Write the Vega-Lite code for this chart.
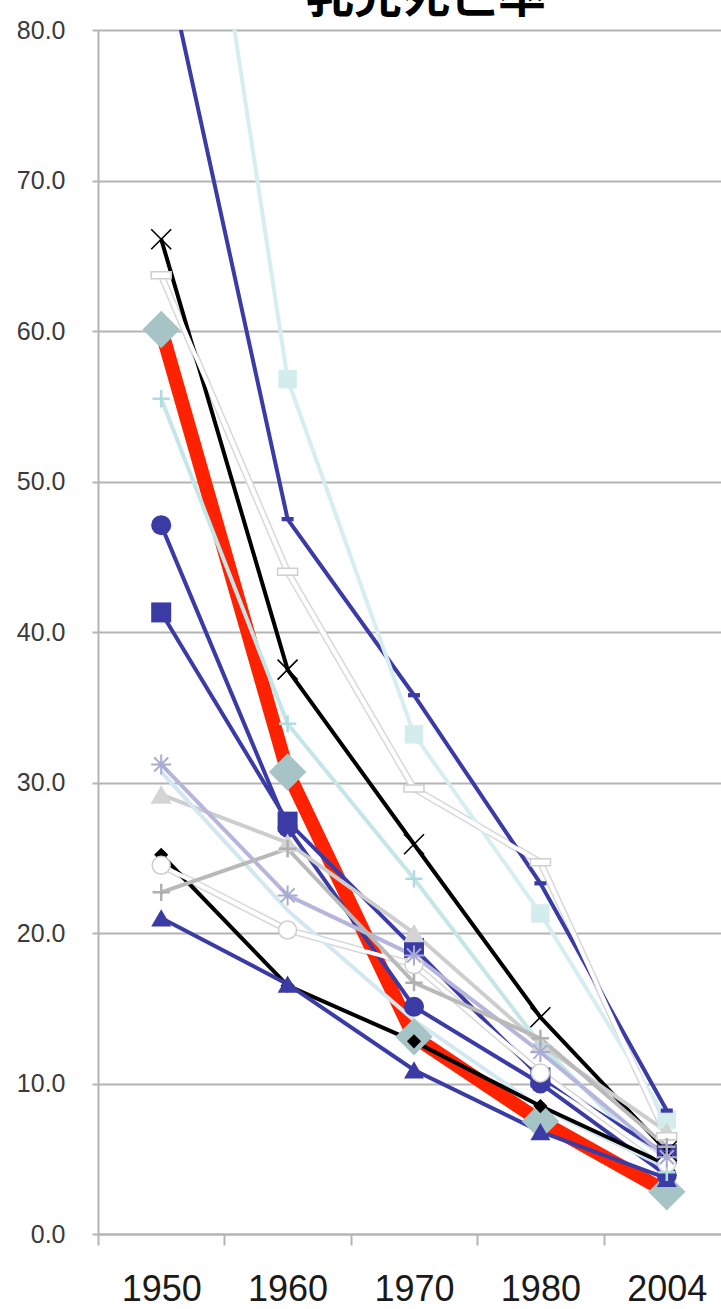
{
  "$schema": "https://vega.github.io/schema/vega-lite/v6.json",
  "width": 632,
  "height": 1204,
  "padding": {"left": 16, "top": -26, "right": -9, "bottom": 0},
  "background": "white",
  "title": {"text": "乳児死亡率", "font": "Noto Sans CJK JP", "fontSize": 48, "fontWeight": "bold", "color": "#000000", "anchor": "middle", "dx": 12, "offset": -52, "baseline": "bottom"},
  "config": {"view": {"stroke": null}, "font": "Liberation Sans"},
  "data": {"values": [
    {"country": "ハンガリー", "year": "1950", "value": 86.0},
    {"country": "ハンガリー", "year": "1960", "value": 47.5},
    {"country": "ハンガリー", "year": "1970", "value": 35.8},
    {"country": "ハンガリー", "year": "1980", "value": 23.3},
    {"country": "ハンガリー", "year": "2004", "value": 8.2},
    {"country": "ポーランド", "year": "1950", "value": 112.0},
    {"country": "ポーランド", "year": "1960", "value": 56.8},
    {"country": "ポーランド", "year": "1970", "value": 33.2},
    {"country": "ポーランド", "year": "1980", "value": 21.3},
    {"country": "ポーランド", "year": "2004", "value": 7.6},
    {"country": "オーストリア", "year": "1950", "value": 66.1},
    {"country": "オーストリア", "year": "1960", "value": 37.5},
    {"country": "オーストリア", "year": "1970", "value": 25.9},
    {"country": "オーストリア", "year": "1980", "value": 14.4},
    {"country": "オーストリア", "year": "2004", "value": 5.5},
    {"country": "イタリア", "year": "1950", "value": 63.7},
    {"country": "イタリア", "year": "1960", "value": 44.0},
    {"country": "イタリア", "year": "1970", "value": 29.6},
    {"country": "イタリア", "year": "1980", "value": 24.7},
    {"country": "イタリア", "year": "2004", "value": 6.5},
    {"country": "日本", "year": "1950", "value": 60.1},
    {"country": "日本", "year": "1960", "value": 30.7},
    {"country": "日本", "year": "1970", "value": 13.1},
    {"country": "日本", "year": "1980", "value": 7.5},
    {"country": "日本", "year": "2004", "value": 2.8},
    {"country": "ドイツ", "year": "1950", "value": 55.5},
    {"country": "ドイツ", "year": "1960", "value": 33.9},
    {"country": "ドイツ", "year": "1970", "value": 23.6},
    {"country": "ドイツ", "year": "1980", "value": 12.6},
    {"country": "ドイツ", "year": "2004", "value": 4.1},
    {"country": "フランス", "year": "1950", "value": 47.1},
    {"country": "フランス", "year": "1960", "value": 27.0},
    {"country": "フランス", "year": "1970", "value": 15.1},
    {"country": "フランス", "year": "1980", "value": 10.0},
    {"country": "フランス", "year": "2004", "value": 3.9},
    {"country": "カナダ", "year": "1950", "value": 41.3},
    {"country": "カナダ", "year": "1960", "value": 27.4},
    {"country": "カナダ", "year": "1970", "value": 19.0},
    {"country": "カナダ", "year": "1980", "value": 10.4},
    {"country": "カナダ", "year": "2004", "value": 5.3},
    {"country": "アメリカ", "year": "1950", "value": 29.2},
    {"country": "アメリカ", "year": "1960", "value": 26.0},
    {"country": "アメリカ", "year": "1970", "value": 20.0},
    {"country": "アメリカ", "year": "1980", "value": 12.6},
    {"country": "アメリカ", "year": "2004", "value": 6.8},
    {"country": "イギリス", "year": "1950", "value": 31.2},
    {"country": "イギリス", "year": "1960", "value": 22.5},
    {"country": "イギリス", "year": "1970", "value": 18.5},
    {"country": "イギリス", "year": "1980", "value": 12.1},
    {"country": "イギリス", "year": "2004", "value": 5.1},
    {"country": "デンマーク", "year": "1950", "value": 30.7},
    {"country": "デンマーク", "year": "1960", "value": 21.5},
    {"country": "デンマーク", "year": "1970", "value": 14.2},
    {"country": "デンマーク", "year": "1980", "value": 8.4},
    {"country": "デンマーク", "year": "2004", "value": 4.4},
    {"country": "オランダ", "year": "1950", "value": 25.2},
    {"country": "オランダ", "year": "1960", "value": 16.5},
    {"country": "オランダ", "year": "1970", "value": 12.8},
    {"country": "オランダ", "year": "1980", "value": 8.5},
    {"country": "オランダ", "year": "2004", "value": 4.6},
    {"country": "スウェーデン", "year": "1950", "value": 21.0},
    {"country": "スウェーデン", "year": "1960", "value": 16.6},
    {"country": "スウェーデン", "year": "1970", "value": 10.9},
    {"country": "スウェーデン", "year": "1980", "value": 6.8},
    {"country": "スウェーデン", "year": "2004", "value": 3.7},
    {"country": "オーストラリア", "year": "1950", "value": 24.5},
    {"country": "オーストラリア", "year": "1960", "value": 20.2},
    {"country": "オーストラリア", "year": "1970", "value": 17.9},
    {"country": "オーストラリア", "year": "1980", "value": 10.7},
    {"country": "オーストラリア", "year": "2004", "value": 4.7},
    {"country": "ニュージーランド", "year": "1950", "value": 22.7},
    {"country": "ニュージーランド", "year": "1960", "value": 25.6},
    {"country": "ニュージーランド", "year": "1970", "value": 16.7},
    {"country": "ニュージーランド", "year": "1980", "value": 13.0},
    {"country": "ニュージーランド", "year": "2004", "value": 5.8}
  ]},
  "encoding": {
    "x": {
      "field": "year", "type": "nominal",
      "sort": ["1950", "1960", "1970", "1980", "2004"],
      "bandPosition": 0.5,
      "scale": {"type": "band", "paddingInner": 0, "paddingOuter": 0},
      "axis": {"title": null, "labelAngle": 0, "labelFontSize": 36, "labelColor": "#1a1a1a", "labelFont": "Liberation Sans", "labelPadding": 27, "tickBand": "extent", "tickSize": 11, "tickWidth": 2, "tickColor": "#b4b4b4", "domainColor": "#b4b4b4", "domainWidth": 2, "grid": false}
    },
    "y": {
      "field": "value", "type": "quantitative",
      "scale": {"domain": [0, 80], "nice": false},
      "axis": {"title": null, "values": [0, 10, 20, 30, 40, 50, 60, 70, 80], "format": ".1f", "labelFontSize": 25, "labelColor": "#3a3a3a", "labelFont": "Liberation Sans", "labelPadding": 27, "tickSize": 6, "tickWidth": 2, "tickColor": "#b4b4b4", "domainColor": "#b4b4b4", "domainWidth": 2, "grid": true, "gridColor": "#b4b4b4", "gridWidth": 2}
    }
  },
  "layer": [
    {
      "transform": [{"filter": {"field": "country", "oneOf": ["イタリア", "オーストラリア"]}}],
      "mark": {"type": "line", "strokeWidth": 7, "clip": true, "color": "#d8d8d8"},
      "encoding": {"detail": {"field": "country", "type": "nominal"}}
    },
    {
      "transform": [{"filter": {"field": "country", "equal": "日本"}}],
      "mark": {"type": "line", "strokeWidth": 14, "clip": true, "color": "#ff2200"},
      "encoding": {}
    },
    {
      "transform": [{"filter": {"not": {"field": "country", "oneOf": ["日本"]}}}],
      "mark": {"type": "line", "strokeWidth": 4, "clip": true},
      "encoding": {
        "color": {"field": "country", "type": "nominal", "legend": null,
          "scale": {
            "domain": ["ハンガリー", "ポーランド", "オーストリア", "イタリア", "日本", "ドイツ", "フランス", "カナダ", "アメリカ", "イギリス", "デンマーク", "オランダ", "スウェーデン", "オーストラリア", "ニュージーランド"],
            "range": ["#3b3ba5", "#d6eef0", "#000000", "#ffffff", "#ff2200", "#c4e6e8", "#3b3ba5", "#3b3ba5", "#cdcdcd", "#b6b6dc", "#d3e7f0", "#000000", "#3b3ba5", "#ffffff", "#b9b9b9"]
          }
        }
      }
    },
    {
      "transform": [{"filter": {"field": "country", "equal": "日本"}}],
      "mark": {"type": "point", "shape": "diamond", "size": 1400, "filled": true, "opacity": 1, "color": "#a6c4c6", "clip": true}
    },
    {
      "transform": [{"filter": {"field": "country", "equal": "オランダ"}}],
      "mark": {"type": "point", "shape": "diamond", "size": 200, "filled": true, "opacity": 1, "color": "#000000", "clip": true}
    },
    {
      "transform": [{"filter": {"field": "country", "equal": "フランス"}}],
      "mark": {"type": "point", "shape": "circle", "size": 400, "filled": true, "opacity": 1, "color": "#3b3ba5", "clip": true}
    },
    {
      "transform": [{"filter": {"field": "country", "equal": "カナダ"}}],
      "mark": {"type": "point", "shape": "square", "size": 400, "filled": true, "opacity": 1, "color": "#3b3ba5", "clip": true}
    },
    {
      "transform": [{"filter": {"field": "country", "equal": "ポーランド"}}],
      "mark": {"type": "point", "shape": "square", "size": 340, "filled": true, "opacity": 1, "color": "#d3ecee", "clip": true}
    },
    {
      "transform": [{"filter": {"field": "country", "equal": "アメリカ"}}],
      "mark": {"type": "point", "shape": "triangle-up", "size": 450, "filled": true, "opacity": 1, "color": "#d4d4d4", "clip": true}
    },
    {
      "transform": [{"filter": {"field": "country", "equal": "スウェーデン"}}],
      "mark": {"type": "point", "shape": "triangle-up", "size": 400, "filled": true, "opacity": 1, "color": "#3b3ba5", "clip": true}
    },
    {
      "transform": [{"filter": {"field": "country", "equal": "ハンガリー"}}],
      "mark": {"type": "point", "shape": "M-1,-0.35L1,-0.35L1,0.35L-1,0.35Z", "size": 144, "filled": true, "opacity": 1, "color": "#3b3ba5", "clip": true}
    },
    {
      "transform": [{"filter": {"field": "country", "equal": "イタリア"}}],
      "mark": {"type": "point", "shape": "M-1,-0.35L1,-0.35L1,0.35L-1,0.35Z", "size": 400, "filled": true, "opacity": 1, "fill": "#ffffff", "stroke": "#cfcfcf", "strokeWidth": 1.5, "clip": true}
    },
    {
      "transform": [{"filter": {"field": "country", "equal": "オーストラリア"}}],
      "mark": {"type": "point", "shape": "circle", "size": 324, "filled": true, "opacity": 1, "fill": "#ffffff", "stroke": "#cfcfcf", "strokeWidth": 1.5, "clip": true}
    },
    {
      "transform": [{"filter": {"field": "country", "equal": "オーストリア"}}],
      "mark": {"type": "point", "shape": "M-1,-1L1,1M-1,1L1,-1", "size": 400, "filled": false, "opacity": 1, "color": "#000000", "strokeWidth": 1.6, "clip": true}
    },
    {
      "transform": [{"filter": {"field": "country", "equal": "ドイツ"}}],
      "mark": {"type": "point", "shape": "M-1,0L1,0M0,-1L0,1", "size": 300, "filled": false, "opacity": 1, "color": "#aedcdf", "strokeWidth": 2.5, "clip": true}
    },
    {
      "transform": [{"filter": {"field": "country", "equal": "ニュージーランド"}}],
      "mark": {"type": "point", "shape": "M-1,0L1,0M0,-1L0,1", "size": 300, "filled": false, "opacity": 1, "color": "#b0b0b0", "strokeWidth": 2.5, "clip": true}
    },
    {
      "transform": [{"filter": {"field": "country", "equal": "イギリス"}}],
      "mark": {"type": "point", "shape": "M-1,0L1,0M0,-1L0,1M-0.7,-0.7L0.7,0.7M-0.7,0.7L0.7,-0.7", "size": 400, "filled": false, "opacity": 1, "color": "#aaaad6", "strokeWidth": 2, "clip": true}
    }
  ]
}
